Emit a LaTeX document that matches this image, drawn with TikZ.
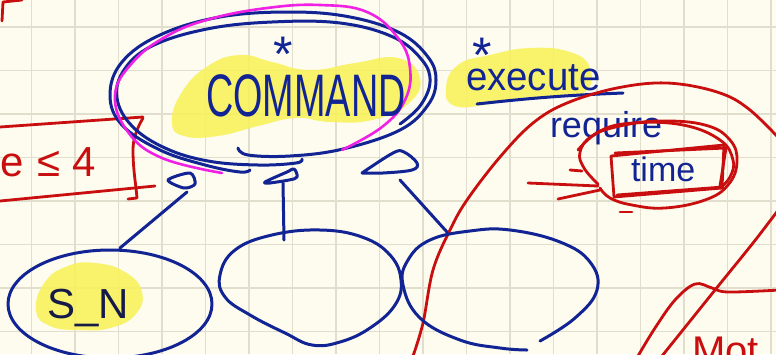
\documentclass[tikz,border=0pt]{standalone}
\usepackage{fontspec}
\setmainfont{Liberation Sans}
\definecolor{paper}{RGB}{253,252,238}
\definecolor{gridc}{RGB}{226,222,206}
\definecolor{ink}{RGB}{18,36,148}
\definecolor{dark}{RGB}{22,26,72}
\definecolor{redink}{RGB}{200,14,14}
\definecolor{pink}{RGB}{240,32,228}
\definecolor{hl}{RGB}{248,242,90}
\tikzset{
  inkline/.style={draw=ink, line width=3pt, line cap=round, line join=round},
  redline/.style={draw=redink, line width=2.8pt, line cap=round, line join=round},
  pinkline/.style={draw=pink, line width=2.6pt, line cap=round, line join=round},
  hlfill/.style={fill=hl, fill opacity=0.88},
  hand/.style={inner sep=0pt, outer sep=0pt},
}
\begin{document}
\begin{tikzpicture}[x=1pt,y=-1pt]
\useasboundingbox (0,0) rectangle (776,354);
\clip (0,0) rectangle (776,354);
\fill[paper] (0,0) rectangle (776,354);
% grid
\foreach \i in {0,...,17} \draw[gridc, line width=1.1pt] (31.5+43.5*\i,0) -- (31.5+43.5*\i,354);
\foreach \j in {0,...,7} \draw[gridc, line width=1.1pt] (0,27+43.5*\j) -- (776,27+43.5*\j);

% highlights
\fill[hlfill] plot[smooth cycle, tension=0.8] coordinates {(172,122) (182,92) (208,66) (240,55) (272,62) (310,70) (355,63) (398,58) (420,78) (408,104) (372,120) (330,122) (296,118) (258,126) (218,136) (184,136)};
\fill[hlfill] plot[smooth cycle, tension=0.8] coordinates {(446,88) (458,65) (490,55) (530,48) (570,52) (590,68) (585,92) (555,96) (520,98) (490,104) (455,106)};
\fill[hlfill] plot[smooth cycle, tension=0.8] coordinates {(36,310) (45,282) (68,266) (95,263) (125,272) (142,292) (135,315) (110,328) (80,330) (50,326)};

% top-left red corner mark
\draw[redline] (22,0) -- (3,2) -- (2,21);

% left red box
\draw[redline] (0,127) -- (143,117);
\draw[redline] (143,118) .. controls (136,130) and (133,140) .. (133,150) .. controls (133,170) and (136,185) .. (137,198) -- (128,199);
\draw[redline] (0,201) -- (155,186);
\node[hand, anchor=base west, text=redink, font=\fontsize{42}{42}\selectfont] (lim) at (0,176) {e\hspace{14pt}≤\hspace{12pt}4};

% main ellipse (blue strokes)
\draw[inkline] plot[smooth, tension=0.65] coordinates {(238,148) (248,155) (290,156) (343,149) (400,130) (428,105) (436,80) (428,57) (400,33) (350,17) (290,12) (220,17) (160,35) (122,62) (110,95) (122,125) (160,150) (205,165) (240,172) (250,170)};
\draw[inkline] plot[smooth, tension=0.65] coordinates {(302,159) (296,163) (258,165) (208,161) (165,148) (132,126) (117,98) (124,70) (152,46) (207,29) (272,22) (340,23) (393,37) (422,60) (430,82) (420,106) (400,124)};
% magenta ellipse
\draw[pinkline] plot[smooth, tension=0.7] coordinates {(342,150) (382,127) (405,100) (410,68) (398,38) (367,12) (320,5) (267,8) (210,19) (167,36) (133,62) (115,95) (128,132) (162,158) (222,173)};

% command text
\node[hand, anchor=base, text=ink, font=\fontsize{60}{60}\selectfont] (cmd) at (306,116) {\scalebox{0.63}[1]{COMMAND}};
\node[hand, anchor=center, text=ink, font=\fontsize{50}{50}\selectfont] (star1) at (283,42) {\raisebox{-0.43em}[0.3em][0pt]{*}};
\node[hand, anchor=center, text=ink, font=\fontsize{50}{50}\selectfont] (star2) at (482,43) {\raisebox{-0.43em}[0.3em][0pt]{*}};

% execute
\node[hand, anchor=base west, text=ink, font=\fontsize{40}{40}\selectfont] (exe) at (466,90) {\scalebox{0.96}[1]{execute}};
\coordinate (u1) at (477,104);
\coordinate (u2) at (623,93);
\draw[inkline] (u1) to[bend left=2] (u2);

% require / time
\node[hand, anchor=base west, text=ink, font=\fontsize{36}{36}\selectfont] (req) at (550,137) {require};
\node[hand, anchor=base west, text=ink, font=\fontsize{34}{34}\selectfont] (tim) at (631,181) {time};

% red box around time (double stroke)
\draw[redline] (611,156) -- (724,145) -- (722,188) -- (614,197) -- cycle;
\draw[redline] (615,153) -- (726,148) -- (720,186);
\draw[redline] (617,195) -- (723,187);
% red ellipse around box
\draw[redline] plot[smooth, tension=0.7] coordinates {(598,184) (584,168) (580,152) (592,136) (620,126) (660,121) (705,125) (730,140) (737,162) (728,185) (705,200) (665,208) (632,205) (610,198) (600,188)};
\draw[redline] plot[smooth, tension=0.7] coordinates {(578,150) (600,131) (633,123) (683,125) (720,140) (733,160) (730,177) (720,188)};
\draw[redline] (620,212) -- (632,212);
% arrow strokes into the box
\coordinate (ar) at (598,186);
\draw[redline] (528,183) -- (ar);
\draw[redline] (558,199) -- (600,190);
\draw[redline] (570,170) -- (582,171);

% big red curve
\draw[redline] plot[smooth, tension=0.6] coordinates {(413,356) (423,323) (433,270) (450,230) (467,200) (500,157) (533,123) (567,103) (617,88) (667,83) (717,92) (750,110) (790,150)};
\draw[redline] plot[smooth, tension=0.6] coordinates {(790,195) (776,213) (753,243) (715,290) (662,356)};
\draw[redline] plot[smooth, tension=0.6] coordinates {(638,356) (655,328) (675,300) (695,284) (712,288) (728,292) (780,290)};
\node[hand, anchor=base west, text=redink, font=\fontsize{40}{40}\selectfont] (mot) at (692,364) {Mot};

% bottom ellipses
\draw[inkline] (110,304) ellipse [x radius=102, y radius=54];
\draw[inkline] plot[smooth cycle, tension=0.7] coordinates {(320,230) (362,237) (390,255) (401,280) (395,305) (370,328) (340,342) (312,345) (285,333) (250,315) (225,297) (220,275) (235,250) (272,235)};
\draw[inkline] plot[smooth, tension=0.7] coordinates {(540,341) (575,318) (597,290) (590,262) (560,242) (510,230) (470,231) (430,240) (408,260) (403,285) (420,318) (460,340) (500,348) (527,350)};

\node[hand, anchor=base west, text=dark, font=\fontsize{42}{42}\selectfont] (sn) at (47,318) {S\_N};

% connector heads
\draw[inkline] plot[smooth cycle, tension=0.5] coordinates {(168,180) (190,173) (195,184) (184,188)};
\draw[inkline] plot[smooth, tension=0.6] coordinates {(270,183) (265,182) (287,172) (294,169) (297,177) (289,180) (270,183)};
\draw[inkline] plot[smooth, tension=0.6] coordinates {(362,173) (393,153) (404,152) (417,163) (412,170) (383,173) (362,173)};
% connectors
\coordinate (hL) at (187,192);
\coordinate (eL) at (120,248);
\coordinate (hM) at (283,183);
\coordinate (eM) at (284,240);
\coordinate (hR) at (400,180);
\coordinate (eR) at (447,232);
\draw[inkline] (eL) -- (hL);
\draw[inkline] (eM) -- (hM);
\draw[inkline] (eR) -- (hR);
\end{tikzpicture}
\end{document}
